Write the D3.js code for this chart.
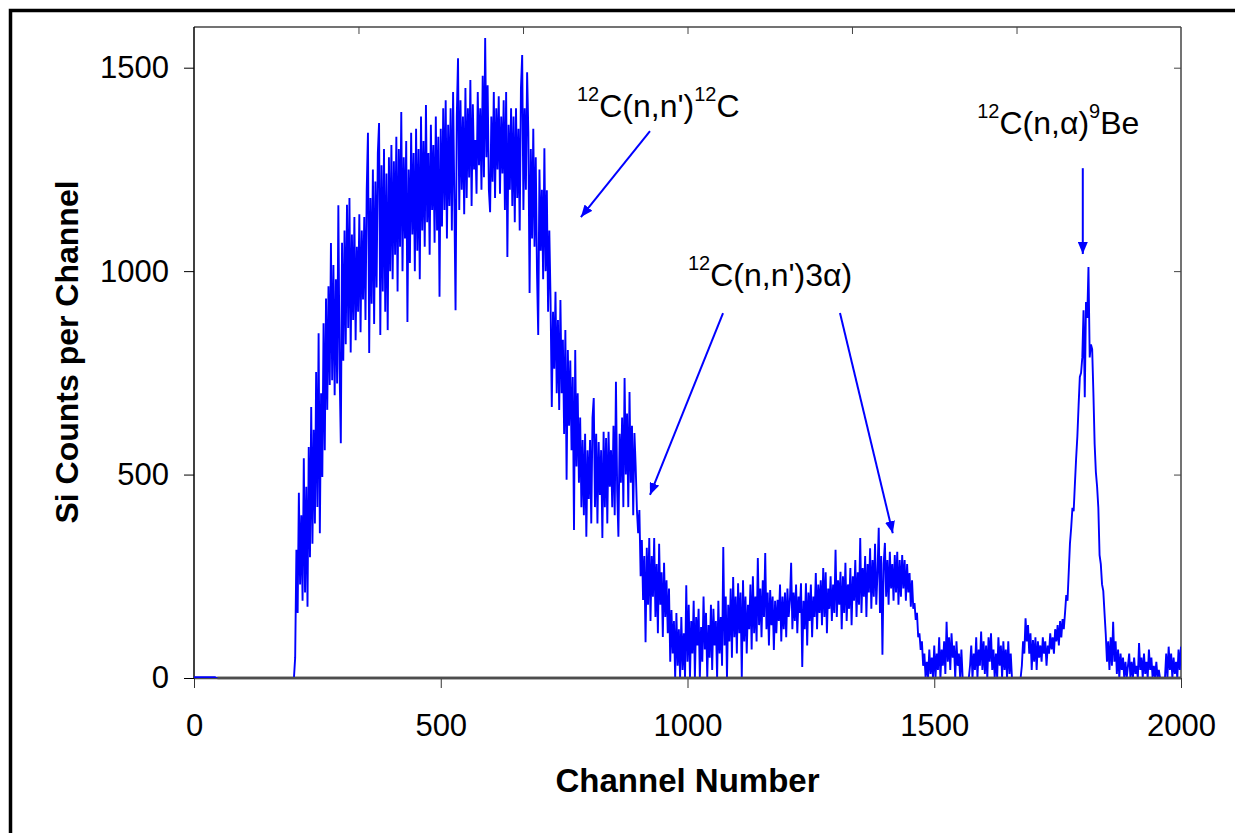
<!DOCTYPE html>
<html>
<head>
<meta charset="utf-8">
<script src="https://cdn.jsdelivr.net/npm/d3@7"></script>
<style>
  body { margin: 0; background: #fff; }
  svg { display: block; font-family: "Liberation Sans", Arial, sans-serif; }
</style>
</head>
<body>
<svg id="chart" width="1235" height="833"></svg>
<script>
// Si detector spectrum, one value every 2.5 channels
var channelStep = 2.5;
var counts = [
  // 0 - 197.5
  2,2,2,2,2,2,2,2,2,2,2,2,2,2,2,2,2,2,0,0,
  0,0,0,0,0,0,0,0,0,0,0,0,0,0,0,0,0,0,0,0,
  0,0,0,0,0,0,0,0,0,0,0,0,0,0,0,0,0,0,0,0,
  0,0,0,0,0,0,0,0,0,0,0,0,0,0,0,0,0,0,0,0,
  // 200 - 247.5
  0,0,50,315,160,455,230,400,190,540,210,470,175,568,297,666,330,610,380,752,
  // 250 - 297.5
  420,847,356,700,494,872,560,933,659,963,720,1069,732,1015,695,980,724,1162,760,577,
  // 300 - 347.5
  1070,780,1100,820,1163,860,1180,800,1090,880,1133,830,1060,900,1140,850,1100,930,1133,880,
  // 350 - 397.5
  1200,1340,799,1180,920,1250,870,1220,960,1290,1364,843,1260,950,1300,900,1240,855,1280,1000,
  // 400 - 447.5
  1310,980,1270,1040,1330,950,1300,1060,1391,1000,1280,1080,1320,875,1250,1020,1340,1090,1290,1000,
  // 450 - 497.5
  1350,1050,1300,980,1380,1100,1320,1060,1408,1120,1290,1040,1360,1150,1310,1070,1380,1100,1330,937,
  // 500 - 547.5
  1350,1110,1400,1150,1420,1080,1360,1160,1400,1100,1440,1180,904,1380,1523,1150,1420,1200,1380,1140,
  // 550 - 597.5
  1450,1180,1400,1230,1470,1160,1410,1250,1322,1190,1440,1260,1400,1200,1480,1231,1573,1280,1457,1200,
  // 600 - 647.5
  1145,1380,1220,1440,1180,1400,1250,1430,1190,1380,1240,1420,1150,1440,1035,1360,1200,1400,1160,1380,
  // 650 - 697.5
  1120,1400,1180,1350,1100,1450,1531,1150,1400,1200,1489,1342,946,1300,1080,1350,1060,1280,1000,843,
  // 700 - 747.5
  1250,1050,1200,980,1302,1000,1199,900,1100,929,666,900,760,949,700,880,659,929,700,831,
  // 750 - 797.5
  600,855,487,806,620,780,560,740,364,806,520,700,480,640,420,585,400,600,347,560,
  // 800 - 847.5
  440,585,380,640,688,420,600,380,580,450,560,344,605,420,590,380,605,470,560,420,
  // 850 - 897.5
  620,400,728,460,347,600,480,640,420,737,500,650,420,703,480,620,400,602,519,413,
  // 900 - 947.5
  356,413,250,339,192,300,88,320,180,344,140,300,200,344,150,280,110,330,180,260,
  // 950 - 997.5
  101,283,150,240,110,220,40,167,60,140,0,160,30,120,0,150,20,110,0,228,
  // 1000 - 1047.5
  40,180,0,140,60,190,0,150,80,170,0,125,40,200,70,160,0,130,50,180,
  // 1050 - 1097.5
  20,170,80,140,0,190,60,150,30,322,80,200,0,180,90,220,50,248,100,200,
  // 1100 - 1147.5
  60,233,110,210,0,240,90,200,60,180,120,230,70,250,110,200,90,295,130,220,
  // 1150 - 1197.5
  100,240,150,307,120,210,80,216,130,200,69,190,110,192,140,230,90,200,120,210,
  // 1200 - 1247.5
  100,220,150,190,283,120,210,140,230,110,200,160,233,27,190,120,233,80,210,140,
  // 1250 - 1297.5
  230,100,200,150,258,120,230,160,240,130,270,150,260,110,220,170,250,140,230,160,
  // 1300 - 1347.5
  315,150,240,180,261,120,250,160,283,140,230,170,270,130,250,190,290,150,260,180,
  // 1350 - 1397.5
  344,160,270,200,300,150,280,210,319,170,290,200,330,180,260,369,160,300,57,280,
  // 1400 - 1447.5
  332,200,290,180,310,220,280,190,302,210,310,180,290,200,302,220,290,190,280,210,
  // 1450 - 1497.5
  258,175,240,170,184,143,160,100,110,69,90,30,60,0,40,0,70,10,50,0,
  // 1500 - 1547.5
  80,0,60,20,100,0,70,30,90,10,138,40,100,20,110,50,80,0,90,30,
  // 1550 - 1597.5
  60,0,70,0,0,0,0,0,0,30,80,0,60,20,100,0,70,30,114,20,
  // 1600 - 1647.5
  90,10,80,0,100,40,110,20,70,0,60,0,100,30,80,0,90,20,70,0,
  // 1650 - 1697.5
  90,10,60,0,0,0,0,0,0,0,0,30,90,60,147,90,130,60,110,20,
  // 1700 - 1747.5
  93,40,100,20,90,50,80,40,100,60,90,30,80,60,110,70,100,60,120,90,
  // 1750 - 1797.5
  130,80,140,100,145,120,160,204,190,260,331,370,418,410,477,540,594,670,740,750,
  // 1800 - 1847.5
  788,904,690,924,885,1010,788,820,808,700,575,506,470,418,302,280,230,214,160,108,
  // 1850 - 1897.5
  40,90,20,100,30,138,40,90,10,70,0,60,20,50,0,40,0,30,60,0,
  // 1900 - 1947.5
  40,0,50,10,30,0,86,20,50,0,60,10,40,0,70,20,50,0,30,0,
  // 1950 - 1997.5
  40,0,20,0,0,0,0,0,60,0,77,20,60,0,50,10,40,0,70,20,
  // 2000
  77
];
var channels = counts.map(function (d, i) { return i * channelStep; });

var xTicks = [0, 500, 1000, 1500, 2000];
var yTicks = [0, 500, 1000, 1500];
var topTicks = [333.3, 666.7, 1000, 1333.3, 1666.7];

// annotation text + arrows, in data units (channel, counts)
var labels = [
  { parts: [['12', true], ['C(n,n\')', false], ['12', true], ['C', false]], x: 776, y: 1379 },
  { parts: [['12', true], ['C(n,n\')3\u03b1)', false]], x: 1001, y: 963 },
  { parts: [['12', true], ['C(n,\u03b1)', false], ['9', true], ['Be', false]], x: 1587, y: 1337 }
];
var arrows = [
  { x1: 924, y1: 1344, x2: 784, y2: 1133 },
  { x1: 1072, y1: 897, x2: 924, y2: 450 },
  { x1: 1309, y1: 897, x2: 1416, y2: 356 },
  { x1: 1801, y1: 1253, x2: 1801, y2: 1042 }
];

var svg = d3.select('#chart');
var pLeft = 194, pRight = 1181, pTop = 27, pBottom = 678;
var font = '"Liberation Sans", Arial, sans-serif';

var x = d3.scaleLinear().domain([0, 2000]).range([pLeft, pRight]);
var y = d3.scaleLinear().domain([0, 1600]).range([pBottom, pTop]);

svg.append('rect').attr('width', 1235).attr('height', 833).attr('fill', '#fff');

// outer frame (only left and top show in the picture)
svg.append('rect')
   .attr('x', 10.5).attr('y', 10.5)
   .attr('width', 1400).attr('height', 1000)
   .attr('fill', 'none').attr('stroke', '#000').attr('stroke-width', 3.5);

var defs = svg.append('defs');
defs.append('clipPath').attr('id', 'plot')
   .append('rect').attr('x', pLeft).attr('y', pTop)
   .attr('width', pRight - pLeft).attr('height', pBottom - pTop);

// plot frame
svg.append('line').attr('x1', pLeft).attr('x2', pRight).attr('y1', pTop).attr('y2', pTop)
   .attr('stroke', '#444').attr('stroke-width', 1.5);
svg.append('line').attr('x1', pRight).attr('x2', pRight).attr('y1', pTop).attr('y2', pBottom)
   .attr('stroke', '#444').attr('stroke-width', 1.5);

// top and right inner ticks
svg.append('g').attr('transform', 'translate(0,' + pTop + ')')
   .call(d3.axisTop(x).tickValues(topTicks).tickSize(-7).tickFormat(''))
   .call(function (g) { g.select('.domain').remove(); })
   .selectAll('line').attr('stroke', '#444');
svg.append('g').attr('transform', 'translate(' + pRight + ',0)')
   .call(d3.axisRight(y).tickValues(yTicks.slice(1)).tickSize(-7).tickFormat(''))
   .call(function (g) { g.select('.domain').remove(); })
   .selectAll('line').attr('stroke', '#444');

// left axis
var gy = svg.append('g').attr('transform', 'translate(' + pLeft + ',0)')
   .call(d3.axisLeft(y).tickValues(yTicks).tickFormat(d3.format('d')).tickSize(10).tickPadding(15));
gy.select('.domain').attr('d', 'M0,' + pTop + 'V' + pBottom).attr('stroke', '#000').attr('stroke-width', 1.5);
gy.selectAll('line').attr('stroke', '#000');
gy.selectAll('text').attr('font-size', 31).attr('fill', '#000').attr('font-family', font);

// bottom axis
var gx = svg.append('g').attr('transform', 'translate(0,' + pBottom + ')')
   .call(d3.axisBottom(x).tickValues(xTicks).tickFormat(d3.format('d')).tickSize(10).tickPadding(26));
gx.select('.domain').attr('d', 'M' + pLeft + ',0H' + pRight).attr('stroke', '#4d4d4d').attr('stroke-width', 2.5);
gx.selectAll('line').attr('stroke', '#333');
gx.selectAll('text').attr('font-size', 31).attr('fill', '#000').attr('font-family', font);

// spectrum, drawn over the axes so the near-zero start shows on the baseline
var line = d3.line()
  .x(function (d, i) { return x(channels[i]); })
  .y(function (d) { return y(d); })
  .defined(function (d) { return d > 0; });

svg.append('path')
   .datum(counts)
   .attr('clip-path', 'url(#plot)')
   .attr('d', d3.line()
      .x(function (d, i) { return x(channels[i]); })
      .y(function (d) { return y(d); }))
   .attr('fill', 'none')
   .attr('stroke', '#0000ff')
   .attr('stroke-width', 1.9);

// put the baseline back on top of the zero runs
svg.append('line').attr('x1', x(47.5)).attr('x2', pRight).attr('y1', pBottom).attr('y2', pBottom)
   .attr('stroke', '#4d4d4d').attr('stroke-width', 2.5);

// axis titles
svg.append('text')
   .attr('transform', 'translate(78,352) rotate(-90)')
   .attr('text-anchor', 'middle')
   .attr('font-size', 32).attr('font-weight', 'bold')
   .text('Si Counts per Channel');

svg.append('text')
   .attr('x', x(1000)).attr('y', 792)
   .attr('text-anchor', 'middle')
   .attr('font-size', 33).attr('font-weight', 'bold')
   .text('Channel Number');

// annotations
var blue = '#0000ff';
defs.append('marker')
   .attr('id', 'head').attr('viewBox', '0 0 12 10')
   .attr('refX', 12).attr('refY', 5)
   .attr('markerWidth', 12).attr('markerHeight', 10)
   .attr('markerUnits', 'userSpaceOnUse')
   .attr('orient', 'auto')
   .append('path').attr('d', 'M0,0L12,5L0,10Z').attr('fill', blue);

svg.selectAll('.arrow').data(arrows).enter().append('line')
   .attr('class', 'arrow')
   .attr('x1', function (d) { return x(d.x1); })
   .attr('y1', function (d) { return y(d.y1); })
   .attr('x2', function (d) { return x(d.x2); })
   .attr('y2', function (d) { return y(d.y2); })
   .attr('stroke', blue).attr('stroke-width', 2)
   .attr('marker-end', 'url(#head)');

labels.forEach(function (l) {
  var t = svg.append('text')
     .attr('x', x(l.x)).attr('y', y(l.y))
     .attr('font-size', 32).attr('fill', '#000');
  var raised = false;
  l.parts.forEach(function (p) {
    var dy = 0;
    if (p[1] && !raised) { dy = -16; raised = true; }
    else if (!p[1] && raised) { dy = 16; raised = false; }
    t.append('tspan')
     .attr('dy', dy)
     .attr('font-size', p[1] ? 20 : 32)
     .text(p[0]);
  });
});
</script>
</body>
</html>
